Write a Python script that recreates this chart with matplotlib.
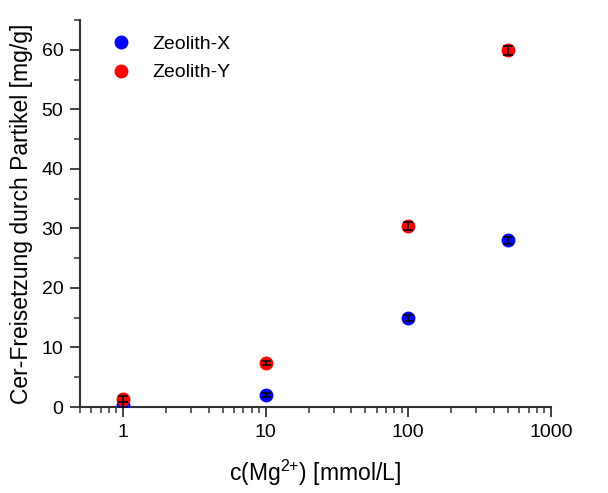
import matplotlib
matplotlib.use("Agg")
import matplotlib.pyplot as plt
from matplotlib.ticker import LogLocator, FixedLocator, MultipleLocator, NullFormatter

plt.rcParams['font.family'] = ['Liberation Sans', 'DejaVu Sans']
plt.rcParams['mathtext.default'] = 'regular'

conc = [1, 10, 100, 500]
zeo_x = [0.4, 2.0, 14.9, 28.0]
zeo_x_err = [0.4, 0.3, 0.5, 0.6]
zeo_y = [1.3, 7.4, 30.4, 59.9]
zeo_y_err = [0.5, 0.3, 0.6, 0.7]
labels = ['Zeolith-X', 'Zeolith-Y']
colors = ['#0000ff', '#ff0000']

fig = plt.figure(figsize=(6.08, 4.93), dpi=100)
ax = fig.add_axes([0.1316, 0.1744, 0.7744, 0.785])

for ys, es, c, lab in [(zeo_x, zeo_x_err, colors[0], labels[0]),
                       (zeo_y, zeo_y_err, colors[1], labels[1])]:
    ax.plot(conc, ys, 'o', color=c, ms=9, label=lab, zorder=3)
    ax.errorbar(conc, ys, yerr=es, fmt='none', ecolor='black', elinewidth=1.1,
                capsize=3.5, capthick=1.1, zorder=4)

ax.set_xscale('log')
ax.set_xlim(0.5, 1000)
ax.set_ylim(0, 65)
ax.xaxis.set_major_locator(FixedLocator([1, 10, 100, 1000]))
ax.set_xticklabels(['1', '10', '100', '1000'])
ax.xaxis.set_minor_locator(LogLocator(base=10, subs=range(2, 10)))
ax.xaxis.set_minor_formatter(NullFormatter())
ax.yaxis.set_major_locator(MultipleLocator(10))
ax.yaxis.set_minor_locator(MultipleLocator(5))

for s in ['top', 'right']:
    ax.spines[s].set_visible(False)
for s in ['left', 'bottom']:
    ax.spines[s].set_color('#333333')
    ax.spines[s].set_linewidth(1.5)

ax.tick_params(which='major', direction='out', length=7, width=1.3, color='#333333',
               labelsize=14, pad=5)
ax.tick_params(which='minor', direction='out', length=4, width=1.1, color='#333333')

ax.set_xlabel('c(Mg$^{2{+}}$) [mmol/L]', fontsize=16.5, labelpad=12)
ax.set_ylabel('Cer-Freisetzung durch Partikel [mg/g]', fontsize=16.5, labelpad=6)

leg = ax.legend(loc='upper left', frameon=False, fontsize=14, bbox_to_anchor=(0.017, 1.005),
                handletextpad=0.8, labelspacing=0.55, handlelength=1.6)

fig.savefig('out.png', dpi=100)
